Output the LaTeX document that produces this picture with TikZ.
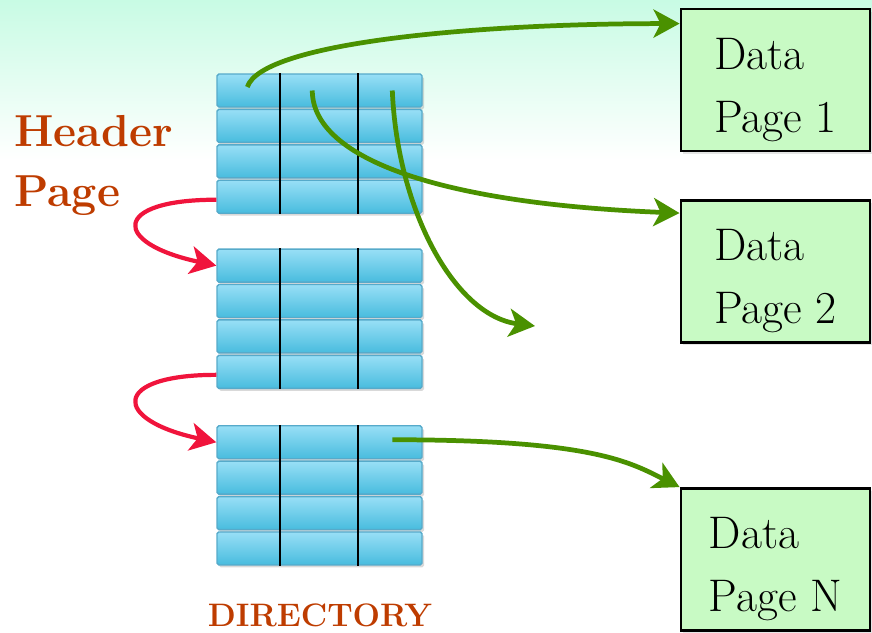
\documentclass[tikz,border=0pt]{standalone}
\usepackage{xcolor}
\usepackage{tikz}
\usetikzlibrary{positioning,calc,shadows,arrows.meta}
\definecolor{DirBlueTop}{RGB}{152,223,246}
\definecolor{DirBlueBot}{RGB}{72,188,222}
\definecolor{DirBlueEdge}{RGB}{86,170,202}
\definecolor{PageGreen}{RGB}{200,250,196}
\definecolor{LinkGreen}{RGB}{74,145,0}
\definecolor{ChainRed}{RGB}{240,20,60}
\definecolor{TitleRust}{RGB}{190,60,0}
\definecolor{SkyMint}{RGB}{200,251,228}
\tikzset{
    dircell/.style={rectangle, draw=DirBlueEdge, thick, top color=DirBlueTop, bottom color=DirBlueBot, rounded corners=1pt, minimum width=4.1cm, minimum height=0.66cm, inner sep=0pt, drop shadow={shadow xshift=0.04cm, shadow yshift=-0.05cm, opacity=0.3}},
    divider/.style={draw=black, line width=1.1pt},
    datapage/.style={rectangle, draw=black, line width=1.6pt, fill=PageGreen, minimum width=3.78cm, minimum height=2.84cm, align=left, font=\fontsize{26}{36}\selectfont, drop shadow={shadow xshift=0.04cm, shadow yshift=-0.05cm, opacity=0.2}},
    pagelink/.style={draw=LinkGreen, line width=2.7pt, -{Stealth[length=0.52cm, width=0.56cm, inset=0.14cm]}},
    chainlink/.style={draw=ChainRed, line width=2.4pt, -{Stealth[length=0.52cm, width=0.56cm, inset=0.14cm]}}
}

\begin{document}
\begin{tikzpicture}[
                title/.style={
                    text=TitleRust,
                    font=\bfseries\fontsize{25.5}{34}\selectfont,
                    align=left,
                    inner sep=0pt
                }
            ]
                \useasboundingbox (0,0) rectangle (17.44,-12.64);
                % background
                \fill[top color=SkyMint, bottom color=white] (0,0) rectangle (17.44,-3.2);

                % Header page
                \node[dircell] (dirA1) at (6.39,-1.81) {};
                \node[dircell, below=0.02cm of dirA1] (dirA2) {};
                \node[dircell, below=0.02cm of dirA2] (dirA3) {};
                \node[dircell, below=0.02cm of dirA3] (dirA4) {};
                % second directory page
                \node[dircell, below=0.69cm of dirA4] (dirB1) {};
                \node[dircell, below=0.02cm of dirB1] (dirB2) {};
                \node[dircell, below=0.02cm of dirB2] (dirB3) {};
                \node[dircell, below=0.02cm of dirB3] (dirB4) {};
                % third directory page
                \node[dircell, below=0.72cm of dirB4] (dirC1) {};
                \node[dircell, below=0.02cm of dirC1] (dirC2) {};
                \node[dircell, below=0.02cm of dirC2] (dirC3) {};
                \node[dircell, below=0.02cm of dirC3] (dirC4) {};

                \foreach \blk in {A,B,C}
                    \foreach \dx in {1.28,2.84}
                        \draw[divider] ([xshift=\dx cm]dir\blk1.north west) -- ([xshift=\dx cm]dir\blk4.south west);

                % Data pages
                \node[datapage] (pg1) at (15.51,-1.60) {\rule{0pt}{1.02cm}Data\\Page 1};
                \node[datapage] (pg2) at (15.51,-5.43) {\rule{0pt}{1.02cm}Data\\Page 2};
                \node[datapage] (pgN) at (15.51,-11.19) {\rule{0pt}{1.02cm}Data\\Page N};

                % labels
                \node[title, anchor=north west] (hdr) at (0.28,-2.31) {Header\\Page};
                \node[title, font=\bfseries\fontsize{18.5}{22}\selectfont] (dirlbl) at (6.4,-12.30) {DIRECTORY};

                % slot pointers
                \coordinate (p1) at ([xshift=0.62cm, yshift=0.07cm]dirA1.west);
                \coordinate (p2) at ([xshift=1.92cm]dirA1.west);
                \coordinate (p3) at ([xshift=3.52cm]dirA1.west);
                \coordinate (p4) at ([xshift=3.52cm, yshift=0.05cm]dirC1.west);
                \coordinate (e3) at (10.7,-6.52);

                \draw[pagelink] (p1) .. controls +(0.3,0.9) and +(-4,0) .. ([yshift=-0.32cm]pg1.north west);
                \draw[pagelink] (p2) .. controls +(0,-1.3) and +(-5,0.2) .. ([yshift=-0.28cm]pg2.north west);
                \draw[pagelink] (p3) .. controls +(0.1,-2.4) and +(-1.6,0.2) .. (e3);
                \draw[pagelink] (p4) .. controls +(4,0) and +(-1.0,0.5) .. (pgN.north west);

                % next page chain
                \draw[chainlink] ([yshift=-0.06cm]dirA4.west) .. controls +(-2.1,0) and +(-2.1,0.45) .. (dirB1.west);
                \draw[chainlink] ([yshift=-0.06cm]dirB4.west) .. controls +(-2.1,0) and +(-2.1,0.45) .. (dirC1.west);
            \end{tikzpicture}
\end{document}
